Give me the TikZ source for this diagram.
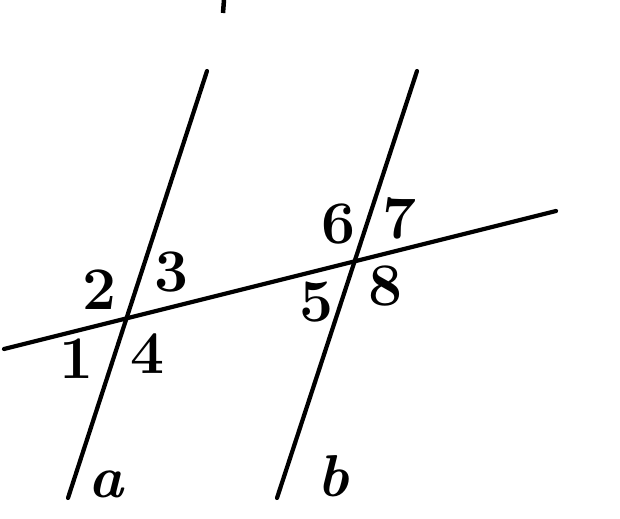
\documentclass[tikz,border=0pt]{standalone}
\usepackage{tikz}
\usetikzlibrary{calc,intersections}

\begin{document}
\begin{tikzpicture}[x=0.025cm,y=-0.025cm,
                line/.style={line width=3pt,line cap=round},
                num/.style={font=\fontsize{43}{47}\selectfont\bfseries,inner sep=0pt},
                lbl/.style={font=\fontsize{42}{46}\selectfont\bfseries\itshape,inner sep=0pt}
                ]
                \useasboundingbox (0,0) rectangle (620,519);
                \coordinate (Abot) at (68,498);
                \coordinate (Atop) at (207,71);
                \coordinate (Bbot) at (277,498);
                \coordinate (Btop) at (417,71);
                \coordinate (Tl) at (4,349);
                \coordinate (Tr) at (556,211);
                \draw [line,name path=a] (Abot) -- (Atop);
                \draw [line,name path=b] (Bbot) -- (Btop);
                \draw [line,name path=t] (Tl) -- (Tr);
                \path [name intersections={of=a and t,by=P}];
                \path [name intersections={of=b and t,by=Q}];
                \draw [line width=3.2pt] (224,0) coordinate (M1) -- (223,13) coordinate (M2);
                \node [num] (n1) at (77,359) {1};
                \node [num] (n2) at (100,290) {2};
                \node [num] (n3) at (172,272) {3};
                \node [num] (n4) at (148,354) {4};
                \node [num] (n5) at (317,302) {5};
                \node [num] (n6) at (339,224) {6};
                \node [num] (n7) at (400,218) {7};
                \node [num] (n8) at (386,286) {8};
                \node [lbl] (la) at (106,484) {a};
                \node [lbl] (lb) at (333,476) {b};
            \end{tikzpicture}
\end{document}
